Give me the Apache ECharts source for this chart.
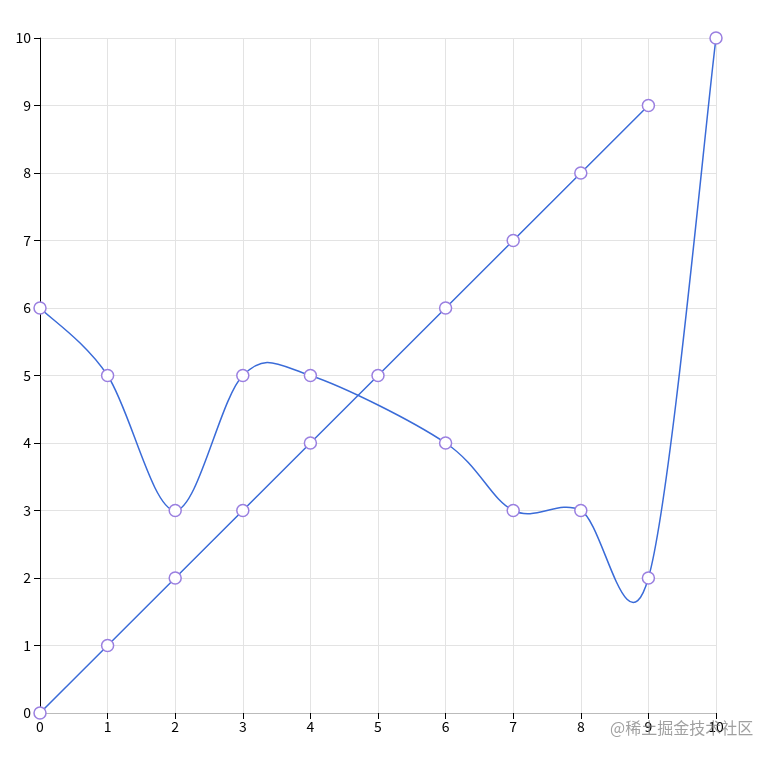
<!DOCTYPE html>
<html>
<head>
<meta charset="utf-8">
<script src="https://cdn.jsdelivr.net/npm/echarts@6/dist/echarts.min.js"></script>
<style>
html,body{margin:0;padding:0;background:#fff;}
#c{width:775px;height:759px;}
</style>
</head>
<body>
<div id="c"></div>
<script>
var xTicks = [0,1,2,3,4,5,6,7,8,9,10];
var lineX = [0,1,2,3,4,5,6,7,8,9];
var lineY = [0,1,2,3,4,5,6,7,8,9];
var curveX = [0,1,2,3,4,6,7,8,9,10];
var curveY = [6,5,3,5,5,4,3,3,2,10];

var chart = echarts.init(document.getElementById('c'));
function pairs(xs, ys){ return xs.map(function(x,i){return [x, ys[i]];}); }
var font = '"Microsoft YaHei","Noto Sans CJK SC","Noto Sans",sans-serif';
var lineColor = '#3a6bd8';
var markerStyle = {color:'#fff', borderColor:'#9a7fe0', borderWidth:1.5, opacity:1};
var curveData = pairs(curveX, curveY);

function cardinalPath(pts){
  var n = pts.length, d = 'M' + pts[0][0] + ',' + pts[0][1];
  for (var i = 0; i < n - 1; i++){
    var p0 = pts[i > 0 ? i - 1 : i], p1 = pts[i], p2 = pts[i + 1], p3 = pts[i + 2 < n ? i + 2 : i + 1];
    var c1x = p1[0] + (p2[0] - p0[0]) / 6, c1y = p1[1] + (p2[1] - p0[1]) / 6;
    var c2x = p2[0] - (p3[0] - p1[0]) / 6, c2y = p2[1] - (p3[1] - p1[1]) / 6;
    d += 'C' + c1x + ',' + c1y + ',' + c2x + ',' + c2y + ',' + p2[0] + ',' + p2[1];
  }
  return d;
}

chart.setOption({
  animation:false,
  grid:{left:40, right:59, top:38, bottom:46},
  xAxis:{
    type:'value', min:0, max:10, interval:1,
    axisLine:{show:true, lineStyle:{color:'#bbb', width:1}},
    axisTick:{show:true, length:6, lineStyle:{color:'#000'}},
    axisLabel:{color:'#000', fontSize:14, fontFamily:font, margin:7},
    splitLine:{show:true, lineStyle:{color:'#e3e3e3', width:1}}
  },
  yAxis:{
    type:'value', min:0, max:10, interval:1,
    axisLine:{show:true, lineStyle:{color:'#000', width:1}},
    axisTick:{show:true, length:6, lineStyle:{color:'#000'}},
    axisLabel:{color:'#000', fontSize:14, fontFamily:font, margin:9},
    splitLine:{show:true, lineStyle:{color:'#e3e3e3', width:1}}
  },
  series:[
    {type:'custom', coordinateSystem:'cartesian2d', data:curveData, encode:{x:0, y:1}, z:2,
     renderItem:function(params, api){
       if (params.dataIndex !== 0) return null;
       var pts = curveData.map(function(p){ return api.coord(p); });
       return {type:'path', shape:{pathData:cardinalPath(pts)},
               style:{fill:null, stroke:lineColor, lineWidth:1.5}};
     }},
    {type:'scatter', data:curveData, symbol:'circle', symbolSize:12, itemStyle:markerStyle, z:4},
    {type:'line', data:pairs(lineX, lineY),
     symbol:'circle', symbolSize:12, lineStyle:{color:lineColor, width:1.5},
     itemStyle:markerStyle, z:3}
  ],
  graphic:[{type:'text', left:610, top:720, z:100,
    style:{text:'@稀土掘金技术社区', fill:'rgba(120,120,120,0.7)', font:'16px '+font}}]
});
</script>
</body>
</html>
